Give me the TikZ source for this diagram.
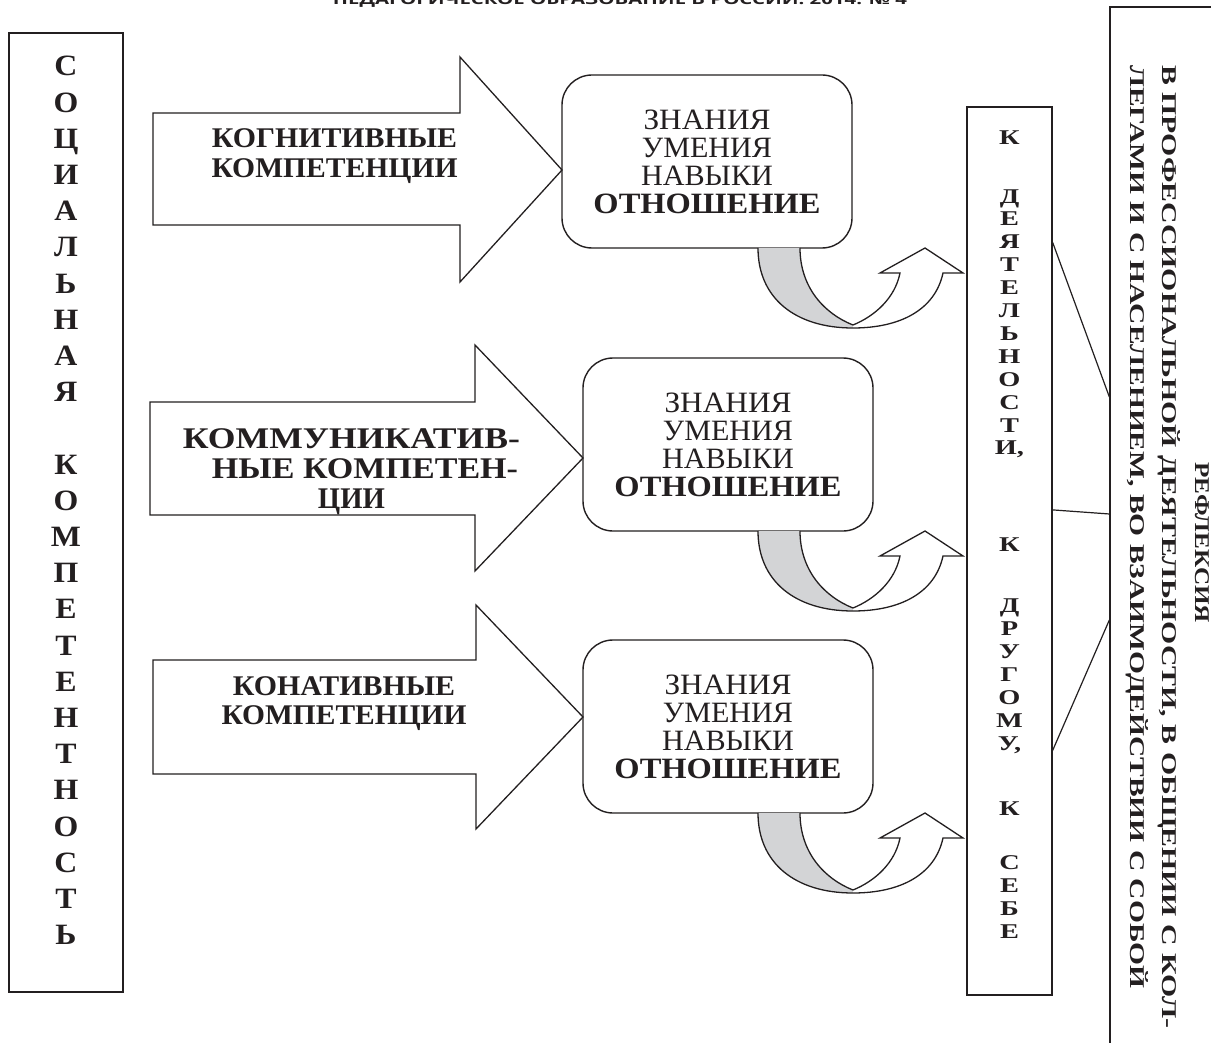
\documentclass[tikz,border=0pt]{standalone}
\usepackage{fontspec}
\setmainfont{Liberation Serif}
\newfontfamily\hdrfont{Open Sans}
\usepackage{graphicx}
\usetikzlibrary{calc}
\newcommand{\fitw}[2]{\resizebox{#1}{\height}{#2}}
\definecolor{bandgray}{RGB}{211,212,214}
\definecolor{inkc}{RGB}{35,31,32}
\begin{document}
\begin{tikzpicture}[x=1pt,y=-1pt,
  frame/.style={draw=inkc, line width=1.4pt, inner sep=0pt},
  blockarrow/.style={draw=inkc, line width=1.3pt, line join=miter},
  kbox/.style={draw=inkc, line width=1.4pt, rounded corners=30pt, minimum width=290pt,
     minimum height=173pt, inner sep=0pt, align=center, text=inkc,
     font=\fontsize{29.5}{28}\selectfont},
  arrowtext/.style={anchor=north, inner sep=0pt, align=center, text=inkc},
  rottext/.style={rotate=-90, inner sep=0pt, text=inkc, font=\fontsize{21}{21}\selectfont\bfseries},
  link/.style={draw=inkc, line width=1.2pt},
  uturn/.pic={
    \fill[bandgray] (758,0) .. controls (758,50) and (795,80) .. (853,80) -- (853,77)
       .. controls (825,66) and (800,40) .. (800,0) -- cycle;
    \fill[white] (853,77) .. controls (875,68) and (895,50) .. (900,25) -- (880,25) -- (925,0)
       -- (963,25) -- (943,25) .. controls (935,62) and (900,80) .. (853,80) -- cycle;
    \draw[draw=inkc, line width=1.3pt, line join=miter] (800,0) .. controls (800,40) and (825,66) .. (853,77)
       .. controls (875,68) and (895,50) .. (900,25) -- (880,25) -- (925,0) -- (963,25) -- (943,25)
       .. controls (935,62) and (900,80) .. (853,80) .. controls (795,80) and (758,50) .. (758,0);
  }
]
\useasboundingbox (0,0) rectangle (1211,1043);
\fill[white] (0,0) rectangle (1211,1043);

% journal header, cut at the top edge
\node[anchor=base, inner sep=0pt, text=inkc, font={\hdrfont\bfseries\fontsize{14}{16}\selectfont}] (hdr) at (620,5)
  {\fitw{574pt}{ПЕДАГОГИЧЕСКОЕ ОБРАЗОВАНИЕ В РОССИИ. 2014. № 4}};

% left box
\node[frame, minimum width=114pt, minimum height=959pt] (socbox) at (66,512.5) {};
\node[anchor=north, inner sep=0pt, text=inkc, font=\fontsize{29.5}{36.2}\selectfont\bfseries] (soctext) at (66,50.4)
  {\scalebox{1.08}[1]{\begin{tabular}{@{}c@{}}С\\О\\Ц\\И\\А\\Л\\Ь\\Н\\А\\Я\\ \\К\\О\\М\\П\\Е\\Т\\Е\\Н\\Т\\Н\\О\\С\\Т\\Ь\end{tabular}}};

% block arrows
\draw[blockarrow] (153,113) -- (460,113) -- (460,57) -- (562,170) -- (460,282) -- (460,225) -- (153,225) -- cycle;
\draw[blockarrow] (150,402) -- (475,402) -- (475,345) -- (583,458) -- (475,571) -- (475,515) -- (150,515) -- cycle;
\draw[blockarrow] (153,660) -- (476,660) -- (476,605) -- (583,717) -- (476,829) -- (476,774) -- (153,774) -- cycle;

\node[arrowtext, font=\fontsize{28.5}{30}\selectfont\bfseries] (cogtext) at (334.5,128)
  {\fitw{245pt}{КОГНИТИВНЫЕ}\\\fitw{246pt}{КОМПЕТЕНЦИИ}};
\node[arrowtext, font=\fontsize{30}{30}\selectfont\bfseries] (comtext) at (351.5,428)
  {\fitw{337pt}{КОММУНИКАТИВ-}\\\hspace*{27pt}\fitw{306pt}{НЫЕ КОМПЕТЕН-}\\\fitw{67pt}{ЦИИ}};
\node[arrowtext, font=\fontsize{28.5}{29}\selectfont\bfseries] (context) at (344,676)
  {\fitw{222pt}{КОНАТИВНЫЕ}\\\fitw{245pt}{КОМПЕТЕНЦИИ}};

% rounded boxes
\node[kbox] (box1) at (707,161.5)
  {\fitw{127pt}{ЗНАНИЯ}\\\fitw{130pt}{УМЕНИЯ}\\\fitw{132pt}{НАВЫКИ}\\\fitw{227pt}{\bfseries ОТНОШЕНИЕ}};
\node[kbox] (box2) at (728,444.5)
  {\fitw{127pt}{ЗНАНИЯ}\\\fitw{130pt}{УМЕНИЯ}\\\fitw{132pt}{НАВЫКИ}\\\fitw{227pt}{\bfseries ОТНОШЕНИЕ}};
\node[kbox] (box3) at (728,726.5)
  {\fitw{127pt}{ЗНАНИЯ}\\\fitw{130pt}{УМЕНИЯ}\\\fitw{132pt}{НАВЫКИ}\\\fitw{227pt}{\bfseries ОТНОШЕНИЕ}};

% curved arrows under the boxes
\pic at (0,248) {uturn};
\pic at (0,531) {uturn};
\pic at (0,813) {uturn};

% middle box
\node[frame, minimum width=85pt, minimum height=888pt] (midbox) at (1009.5,551) {};
\node[anchor=north, inner sep=0pt, text=inkc, font=\fontsize{21}{22.9}\selectfont\bfseries] (midtext) at (1009.5,127.8)
  {\scalebox{1.35}[1]{\begin{tabular}{@{}c@{}}К\\[36.1pt]Д\\Е\\Я\\Т\\Е\\Л\\Ь\\Н\\О\\С\\Т\\И,\\[74.1pt]К\\[38.1pt]Д\\Р\\У\\Г\\О\\М\\У,\\[42.1pt]К\\[31.1pt]С\\Е\\Б\\Е\end{tabular}}};

% right box
\node[frame, minimum width=106pt, minimum height=1043pt] (reflbox) at (1163,528.5) {};
\node[rottext, anchor=base] (refl1) at (1195,542.5) {\fitw{161pt}{РЕФЛЕКСИЯ}};
\node[rottext, anchor=base west] (refl2) at (1162,65)
  {\fitw{963pt}{В ПРОФЕССИОНАЛЬНОЙ ДЕЯТЕЛЬНОСТИ, В ОБЩЕНИИ С КОЛ-}};
\node[rottext, anchor=base west] (refl3) at (1130,65)
  {\fitw{923pt}{ЛЕГАМИ И С НАСЕЛЕНИЕМ, ВО ВЗАИМОДЕЙСТВИИ С СОБОЙ}};

% connectors
\draw[link] ($(midbox.north east)!0.1532!(midbox.south east)$) -- ($(reflbox.north west)!0.3739!(reflbox.south west)$);
\draw[link] ($(midbox.north east)!0.4538!(midbox.south east)$) -- ($(reflbox.north west)!0.4861!(reflbox.south west)$);
\draw[link] ($(midbox.north east)!0.7241!(midbox.south east)$) -- ($(reflbox.north west)!0.5877!(reflbox.south west)$);
\end{tikzpicture}
\end{document}
